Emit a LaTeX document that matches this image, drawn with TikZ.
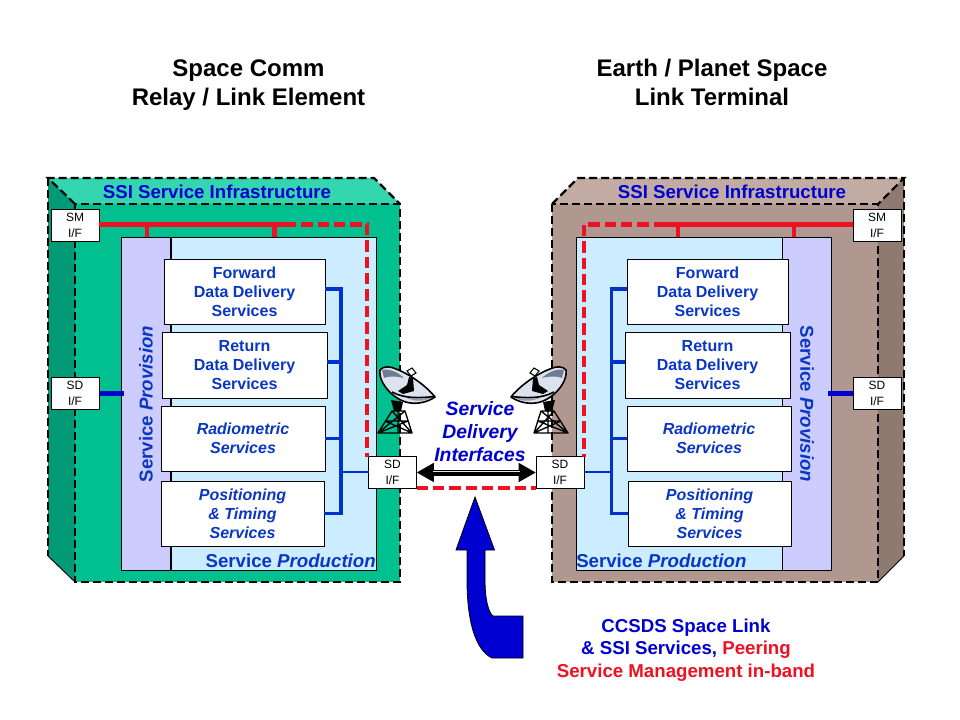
\documentclass[tikz,border=0pt]{standalone}
\usepackage{fontspec}
\setmainfont{Liberation Sans}
\usetikzlibrary{arrows.meta}
\definecolor{tealfront}{HTML}{00C08F}
\definecolor{tealtop}{HTML}{33D6AE}
\definecolor{tealside}{HTML}{009B76}
\definecolor{brownfront}{HTML}{B09890}
\definecolor{browntop}{HTML}{C2ABA3}
\definecolor{brownside}{HTML}{8F7A72}
\definecolor{provfill}{HTML}{CCCCFF}
\definecolor{prodfill}{HTML}{CCECFF}
\definecolor{boxblue}{HTML}{0A36C4}
\definecolor{headblue}{HTML}{0000D0}
\definecolor{busblue}{HTML}{0033CC}
\definecolor{redline}{HTML}{EE1122}
\definecolor{dishface}{HTML}{DDE3EE}
\definecolor{dishback}{HTML}{6F7D90}
\tikzset{
  x=0.75pt,y=-0.75pt,
  face/.style={line width=1.6pt,dash pattern=on 6pt off 3pt,draw=black},
  edgeline/.style={draw=black,line width=0.7pt},
  panel/.style={draw=black,line width=0.6pt,inner sep=0pt,outer sep=0pt},
  svc/.style={panel,fill=white,inner sep=0pt,align=center,text=boxblue,
     font=\fontsize{12pt}{14.25pt}\selectfont\bfseries},
  iface/.style={panel,fill=white,minimum width=36pt,minimum height=23.5pt,align=center,
     font=\fontsize{9pt}{12pt}\selectfont},
  head/.style={align=center,inner sep=0pt,font=\fontsize{18pt}{21.75pt}\selectfont\bfseries},
  label/.style={inner sep=0pt,text=boxblue,font=\fontsize{14pt}{16pt}\selectfont\bfseries},
  infra/.style={inner sep=0pt,text=headblue,font=\fontsize{14pt}{16pt}\selectfont\bfseries},
  redsolid/.style={draw=redline,line width=3.4pt},
  reddash/.style={draw=redline,line width=3.4pt,dash pattern=on 8.5pt off 3.75pt},
  bus/.style={draw=busblue,line width=2.6pt},
  busthin/.style={draw=busblue,line width=2pt},
  sdlink/.style={draw=headblue,line width=3.8pt},
  antenna/.pic={
    % tower
    \draw[black,line width=1pt,line join=round]
      (378,433)--(392,411)--(405,411)--(412,433)--cycle
      (378,433)--(405,411) (412,433)--(392,411)
      (385,421)--(408,421) (378,433)--(408,421) (412,433)--(385,421)
      (398,411)--(398,433);
    % neck
    \fill[black] (391,400)--(403,402)--(401,411)--(394,411)--cycle;
    % bowl
    \draw[black,fill=dishface,line width=1.2pt,line join=round]
       (380,370) .. controls (383,366) and (390,366) .. (396,369)
       .. controls (412,375) and (428,388) .. (435,397)
       .. controls (428,402) and (418,404) .. (411,403)
       .. controls (396,402) and (378,384) .. (380,370) -- cycle;
    % shading
    \fill[dishback] (382,370) .. controls (388,368) and (398,372) .. (404,378)
       .. controls (396,376) and (388,376) .. (384,378) -- cycle;
    \fill[dishback!70!dishface] (404,397) .. controls (414,400) and (424,399) .. (433,397)
       .. controls (426,401) and (416,403) .. (404,397) -- cycle;
    \draw[black,line width=1.2pt] (392,392) .. controls (405,399) and (420,398) .. (435,396.5);
    % feed
    \fill[black] (409,377)--(413,378)--(414,391)--(403,394)--(398,391)--(407,385)--cycle;
    \draw[fill=white,line width=.8pt] (407,371)--(412,368)--(416,373)--(411,376)--cycle;
  }
}
\begin{document}
\begin{tikzpicture}
\useasboundingbox (0,0) rectangle (960,720);
\fill[white] (0,0) rectangle (960,720);

% Left block
\fill[tealfront] (75,204) rectangle (400,582);
\fill[tealtop] (48,178)--(374,178)--(400,204)--(75,204)--cycle;
\fill[tealside] (48,178)--(75,204)--(75,582)--(48,556)--cycle;
\draw[edgeline] (48,556)--(75,582);
\draw[face] (75,204)--(48,178)--(374,178)--(400,204);
\draw[face] (48,178)--(48,556);
\draw[face] (75,204) rectangle (400,582);

% Right block
\fill[brownfront] (552,204) rectangle (878,582);
\fill[browntop] (578,178)--(904,178)--(878,204)--(552,204)--cycle;
\fill[brownside] (904,178)--(878,204)--(878,582)--(904,556)--cycle;
\draw[edgeline] (904,556)--(878,582);
\draw[face] (552,204)--(578,178)--(904,178)--(878,204);
\draw[face] (904,178)--(904,556);
\draw[face] (552,204) rectangle (878,582);

% Panels
\node[panel,fill=provfill,minimum width=36.75pt,minimum height=249.75pt] (provL) at (145.5,403.5) {};
\node[panel,fill=prodfill,minimum width=153.75pt,minimum height=249.75pt] (prodL) at (274,403.5) {};
\node[panel,fill=prodfill,minimum width=154.5pt,minimum height=249.75pt] (prodR) at (679,403.5) {};
\node[panel,fill=provfill,minimum width=36.75pt,minimum height=249.75pt] (provR) at (806.5,403.5) {};

% Interfaces
\node[iface] (smL) at (75,225.5) {SM\\I/F};
\node[iface] (sdL) at (75,393.5) {SD\\I/F};
\node[iface] (smR) at (877,225.5) {SM\\I/F};
\node[iface] (sdR) at (877,393.5) {SD\\I/F};

% Red management lines
\coordinate (tapLa) at (147,224.5);
\coordinate (tapLb) at (274.5,224.5);
\coordinate (midL) at (285,224.5);
\coordinate (cornL) at (367,224.5);
\coordinate (tapRa) at (678,224.5);
\coordinate (tapRb) at (794,224.5);
\coordinate (midR) at (665,224.5);
\coordinate (cornR) at (584,224.5);
\draw[redsolid] (tapLa) -- (tapLa |- provL.north);
\draw[redsolid] (tapLb) -- (tapLb |- prodL.north);
\draw[redsolid] (tapRa) -- (tapRa |- prodR.north);
\draw[redsolid] (tapRb) -- (tapRb |- provR.north);
\draw[redsolid] (smL.east |- midL) -- (midL);
\draw[redsolid] (smR.west |- midR) -- (midR);

% Service boxes
\node[svc,minimum width=120.75pt,minimum height=48.75pt] (fwdL) at (244.5,291.5) {Forward\\Data Delivery\\Services};
\node[svc,minimum width=123.75pt,minimum height=49.5pt] (retL) at (244.5,365) {Return\\Data Delivery\\Services};
\node[svc,minimum width=123pt,minimum height=48.75pt] (radL) at (243,438.5) {\itshape Radiometric\\\itshape Services};
\node[svc,minimum width=122.25pt,minimum height=48.75pt] (posL) at (242.5,513.5) {\itshape Positioning\\\itshape \& Timing\\\itshape Services};
\node[svc,minimum width=120.75pt,minimum height=48.75pt] (fwdR) at (707.5,291.5) {Forward\\Data Delivery\\Services};
\node[svc,minimum width=123.75pt,minimum height=49.5pt] (retR) at (707.5,365) {Return\\Data Delivery\\Services};
\node[svc,minimum width=123pt,minimum height=48.75pt] (radR) at (709,438.5) {\itshape Radiometric\\\itshape Services};
\node[svc,minimum width=122.25pt,minimum height=48.75pt] (posR) at (709.5,513.5) {\itshape Positioning\\\itshape \& Timing\\\itshape Services};

% Centre interfaces
\node[iface] (sdcL) at (392.5,472.5) {SD\\I/F};
\node[iface] (sdcR) at (560,472.5) {SD\\I/F};

% Blue buses
\coordinate (busLa) at (341,289);
\coordinate (busLb) at (341,362);
\coordinate (busLc) at (341,438.5);
\coordinate (busLd) at (341,513.5);
\coordinate (busLh) at (341,472);
\coordinate (busRa) at (611.5,289);
\coordinate (busRb) at (611.5,362);
\coordinate (busRc) at (611.5,438.5);
\coordinate (busRd) at (611.5,513.5);
\coordinate (busRh) at (611.5,472);
\draw[bus] (fwdL.east |- busLa) -| (busLd) -- (posL.east |- busLd);
\draw[bus] (retL.east |- busLb) -- (busLb);
\draw[busthin] (radL.east |- busLc) -- (busLc);
\draw[busthin] (busLh) -- (sdcL.west |- busLh);
\draw[bus] (fwdR.west |- busRa) -| (busRd) -- (posR.west |- busRd);
\draw[bus] (retR.west |- busRb) -- (busRb);
\draw[busthin] (radR.west |- busRc) -- (busRc);
\draw[busthin] (busRh) -- (sdcR.east |- busRh);

% SD links to provision
\coordinate (sdtapL) at (124,393.5);
\coordinate (sdtapR) at (828,393.5);
\draw[sdlink] (sdL.east) -- (sdtapL);
\draw[sdlink] (sdR.west) -- (sdtapR);

% Red dashed continuations
\draw[reddash] (midL) -- (cornL) -- (cornL |- sdcL.north);
\draw[reddash] (midR) -- (cornR) -- (cornR |- sdcR.north);
\draw[reddash] (sdcL.south east) -- (sdcR.south west);

% Antennas
\pic at (0,0) {antenna};
\pic[xscale=-1] at (946,0) {antenna};

% Delivery arrow
\draw[black,line width=4.5pt,{Triangle[length=13pt,width=13.5pt]}-{Triangle[length=13pt,width=13.5pt]}]
  (sdcL.east) -- (sdcR.west);
\draw[white!80!gray,line width=.8pt,shorten >=12pt,shorten <=12pt,transform canvas={yshift=.8pt}] (sdcL.east) -- (sdcR.west);

% Big arrow
\draw[fill=headblue,draw=black,line width=.6pt,line join=miter]
  (475,497)--(494.5,550)--(485,550)--(485,580)
  .. controls (485,598) and (488,612) .. (493,616)
  --(523,616)--(523,658)--(492,658)
  .. controls (475,650) and (467,620) .. (467,580)
  --(467,550)--(456,550)--cycle;

% Labels
\node[head] (titleL) at (248.5,85) {Space Comm\\Relay / Link Element};
\node[head] (titleR) at (712,82) {Earth / Planet Space\\Link Terminal};
\node[infra] (infL) at (217,192) {SSI Service Infrastructure};
\node[infra] (infR) at (732,192) {SSI Service Infrastructure};
\node[label,rotate=90] (plabL) at (146,404) {Service \textit{Provision}};
\node[label,rotate=-90] (plabR) at (807,404) {Service \textit{Provision}};
\node[label,anchor=east] (pdL) at (376,561) {Service \textit{Production}};
\node[label,anchor=west] (pdR) at (576,561) {Service \textit{Production}};
\node[align=center,inner sep=0pt,text=headblue,font=\fontsize{14.5pt}{17.25pt}\selectfont\bfseries\itshape] (sdi) at (480,432) {Service\\Delivery\\Interfaces};
\node[align=center,inner sep=0pt,font=\fontsize{14pt}{17pt}\selectfont\bfseries] (note) at (686,650) {\textcolor{headblue}{CCSDS Space Link}\\\textcolor{headblue}{\& SSI Services,} \textcolor{redline}{Peering}\\\textcolor{redline}{Service Management in-band}};
\end{tikzpicture}
\end{document}
